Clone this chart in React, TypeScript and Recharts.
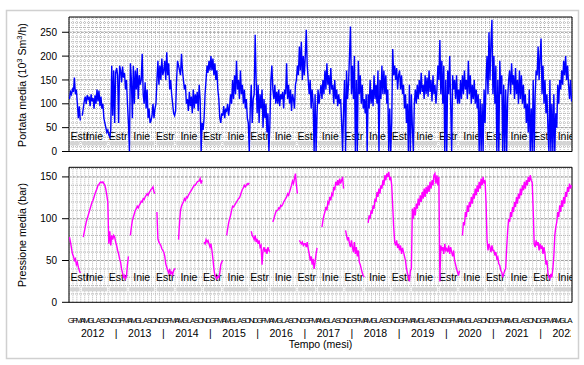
import React from 'react';
import { LineChart, Line, XAxis, YAxis, CartesianGrid, ReferenceArea, ReferenceLine } from 'recharts';

const FONT = '"Liberation Sans", Arial, Helvetica, sans-serif';

// ---- axis labels ----
const MONTH_LETTERS = ['G', 'F', 'M', 'A', 'M', 'G', 'L', 'A', 'S', 'O', 'N', 'D'];
const YEARS = [2012, 2013, 2014, 2015, 2016, 2017, 2018, 2019, 2020, 2021, 2022];
const TOTAL_MONTHS = 128;
const FLOW_TICKS = [0, 50, 100, 150, 200, 250];
const PRESS_TICKS = [0, 50, 100, 150];

// ---- seasons (month index boundaries from Jan 2012) ----
const SEASON_BOUNDS = [0, 3, 10, 15, 22, 27, 34, 39, 46, 51, 58, 63, 70, 75, 82, 87, 94, 99, 106, 111, 118, 123, 130];
const SEASON_NAMES = ['Estr', 'Inie'];

// ---- Portata media (10^3 Sm3/h), 4 readings per month ----
const flow2012 = [110,125,120,130, 125,155,120,130, 100,70,95,65, null,75,90,105, 115,100,118,110, 115,95,120,105, 112,90,118,100, 130,105,128,95, 115,90,100,70, 60,50,40,45, 35,30,45,180, 75,170,60,165];
const flow2013 = [175,160,60,180, 170,145,178,155, 165,130,150,100, 60,0,185,150, 70,180,100,170, 130,175,110,160, 140,150,205,120, 100,145,90,130, 70,90,60,65, 75,100,70,90, 100,150,190,140, 180,150,195,160];
const flow2014 = [170,190,150,208, 160,185,130,150, 120,100,80,75, 85,150,190,180, 170,160,205,170, 150,130,140,100, 110,85,125,95, 115,80,130,90, 120,100,125,85, 140,110,0,60, 45,70,120,150, 180,165,190,170];
const flow2015 = [200,170,195,160, 185,150,170,130, 110,70,60,80, 75,95,70,90, 85,100,75,95, 120,100,150,110, 160,120,190,130, 150,110,170,120, 140,100,130,90, 110,70,60,0, 90,140,60,110, 120,245,150,80];
const flow2016 = [140,60,120,90, 130,50,110,70, 100,40,80,0, 60,150,180,130, 110,140,100,125, 100,130,95,120, 110,125,90,130, 120,185,110,140, 100,130,85,120, 110,90,140,150, 180,160,220,170, 230,150,200,160];
const flow2017 = [200,255,180,150, 120,150,90,130, 100,0,120,0, 80,130,100,120, 140,110,150,120, 170,130,185,140, 160,120,175,130, 140,100,150,110, 130,95,120,100, 110,60,0,90, 150,0,170,110, 140,200,262,120];
const flow2018 = [180,110,200,0, 150,0,190,120, 160,100,140,90, 110,80,120,0, 120,90,150,100, 130,95,160,110, 140,100,170,0, 150,110,180,120, 170,120,160,100, 130,0,90,0, 60,215,160,180, 150,175,130,160];
const flow2019 = [170,130,160,120, 140,90,120,60, 100,0,140,0, 120,50,0,100, 130,100,140,110, 150,120,165,125, 140,110,160,120, 155,115,170,125, 150,105,160,120, 140,100,130,180, 150,234,120,190, 100,180,0,150];
const flow2020 = [0,170,120,200, 100,0,160,130, 150,110,160,100, 130,100,150,110, 160,120,170,130, 150,110,190,120, 160,100,140,110, 150,100,130,90, 120,0,110,0, 100,0,130,60, 150,200,120,250, 150,230,276,120];
const flow2021 = [200,100,180,0, 150,0,190,120, 160,0,140,0, 130,0,110,150, 170,120,185,140, 160,110,175,120, 150,100,170,110, 160,100,140,90, 120,60,100,40, 130,0,90,0, 150,0,120,170, 160,220,150,200];
const flow2022 = [237,120,180,100, 150,80,120,50, 0,150,0,100, 0,120,0,80, 50,140,100,150, 130,170,140,190, 160,200,150,180, 140,110,150,105];

// ---- Pressione media (bar), 4 readings per month ----
const press2012 = [78,72,65,58, 55,50,52,45, 48,42,38,35, null,null,78,84, 90,96,100,104, 108,112,116,120, 122,126,130,133, 136,140,141,143, 144,143,144,142, 140,135,128,120, 70,85,68,80, 75,80,78,72];
const press2013 = [68,62,58,52, 48,40,35,30, 32,28,31,45, 55,null,80,90, 98,102,106,110, 112,115,113,116, 118,121,120,124, 123,126,128,130, 128,131,133,135, 136,138,132,130, null,108,76,72, 70,68,64,62];
const press2014 = [60,55,46,42, 38,35,40,34, 36,33,38,40, 40,null,null,75, 95,110,115,118, 120,124,122,126, 125,128,130,132, 134,136,138,140, 140,142,144,145, 145,148,142,146, null,72,70,75, 72,74,70,66];
const press2015 = [70,62,52,40, 32,30,28,31, 30,35,45,48, 50,null,null,null, 80,88,95,100, 104,110,115,114, 116,118,120,122, 124,125,128,132, 135,137,140,138, 140,142,141,143, null,85,80,78, 75,80,72,76];
const press2016 = [70,74,66,68, 45,62,66,60, 64,58,66,62, 60,null,null,96, 100,104,108,110, 110,113,112,116, 115,117,120,122, 124,126,130,128, 132,136,140,145, 142,148,154,140, 130,null,74,72, 70,72,68,70];
const press2017 = [70,66,72,64, 58,50,55,45, 52,40,48,58, 65,null,null,null, null,90,98,104, 108,114,110,120, 118,126,122,130, 128,138,134,144, 140,146,140,148, 142,146,150,136, null,86,80,74, 78,70,66,74];
const press2018 = [66,60,72,58, 66,55,62,48, 45,40,35,32, 30,null,null,null, 95,104,100,110, 106,116,112,124, 120,132,126,136, 130,140,136,146, 140,152,146,154, 150,156,146,150, 140,115,90,72, 68,74,65,70];
const press2019 = [62,68,58,65, 60,55,50,40, 35,30,25,38, 40,112,100,114, 104,118,112,124, 116,128,120,132, 124,136,126,138, 130,140,132,144, 136,146,140,152, 154,142,152,140, 150,25,68,62, 66,58,70,62];
const press2020 = [64,60,68,58, 66,60,55,62, 50,45,40,36, 32,38,null,null, 80,96,92,108, 102,116,108,120, 114,126,118,130, 124,136,128,140, 132,144,136,148, 140,150,142,146, 120,75,62,70, 66,60,68,62];
const press2021 = [62,56,60,52, 54,46,44,38, 36,30,34,38, 40,65,85,100, 96,108,102,114, 108,120,114,126, 118,130,124,136, 128,140,134,144, 136,146,140,150, 144,152,146,143, 110,70,66,74, 68,72,62,70];
const press2022 = [64,68,58,66, 58,45,50,35, 30,28,34,30, 40,55,80,90, 96,108,102,116, 108,122,114,126, 118,132,126,138, 132,142,136,140];

const FLOW_BY_YEAR = [flow2012, flow2013, flow2014, flow2015, flow2016, flow2017, flow2018, flow2019, flow2020, flow2021, flow2022];
const PRESS_BY_YEAR = [press2012, press2013, press2014, press2015, press2016, press2017, press2018, press2019, press2020, press2021, press2022];

type Row = { t: number; flow: number | null; press: number | null };
const DATA: Row[] = [];
FLOW_BY_YEAR.forEach((arr, k) => {
  arr.forEach((v, i) => {
    DATA.push({ t: k * 12 + i / 4 + 0.125, flow: v, press: PRESS_BY_YEAR[k][i] ?? null });
  });
});

const SEASONS = SEASON_BOUNDS.slice(0, -1).map((s, i) => ({
  start: s,
  end: SEASON_BOUNDS[i + 1],
  name: SEASON_NAMES[i % 2],
}));

// ---- layout ----
const W = 584;
const PLOT_LEFT = 69;
const PLOT_RIGHT = 572;
const MONTH_BOUNDS = Array.from({ length: TOTAL_MONTHS + 1 }, (_, i) => i);
const MONTH_CENTERS = Array.from({ length: TOTAL_MONTHS }, (_, i) => i + 0.5);
const YEAR_TICKS = [
  ...YEARS.map((_, k) => k * 12 + 6),
  ...YEARS.slice(1).map((_, k) => (k + 1) * 12),
].sort((a, b) => a - b);
const FLOW_MINOR = Array.from({ length: 28 }, (_, i) => (i + 1) * 10);
const PRESS_MINOR = Array.from({ length: 16 }, (_, i) => (i + 1) * 10);

function scaleOf(axis: any): ((v: number) => number) | null {
  if (!axis) return null;
  const s = axis.scale;
  if (typeof s === 'function') return s;
  if (s && typeof s.map === 'function') return (v: number) => s.map(v);
  return null;
}

const makeVGen = (values: number[]) => (props: any) => {
  const sc = scaleOf(props && props.xAxis);
  if (!sc) return [];
  return values.map((v) => sc(v)).filter((p) => Number.isFinite(p));
};
const makeHGen = (values: number[]) => (props: any) => {
  const sc = scaleOf(props && props.yAxis);
  if (!sc) return [];
  return values.map((v) => sc(v)).filter((p) => Number.isFinite(p));
};

function SeasonLabel(props: any) {
  const { viewBox, seasonName, isFirst } = props;
  if (!viewBox) return null;
  const { x, y, width, height } = viewBox;
  const cy = y + height / 2;
  const tx = isFirst ? x + 1.5 : x + width / 2;
  return (
    <svg x={PLOT_LEFT} y={cy - 8} width={PLOT_RIGHT - PLOT_LEFT} height={16} overflow="hidden">
      <text
        x={tx - PLOT_LEFT}
        y={8}
        dominantBaseline="central"
        textAnchor={isFirst ? 'start' : 'middle'}
        fontSize={10.5}
        fill="#000"
        fontFamily={FONT}
      >
        {seasonName}
      </text>
    </svg>
  );
}

function YearTick(props: any) {
  const { x, y, payload } = props;
  const v = payload.value as number;
  const label = v % 12 === 0 ? '|' : String(YEARS[Math.floor(v / 12)]);
  return (
    <svg x={0} y={y} width={PLOT_RIGHT - 1} height={16} overflow="hidden">
      <text x={x} y={0} dy="0.75em" textAnchor="middle" fontSize={10.5} fill="#000" fontFamily={FONT}>
        {label}
      </text>
    </svg>
  );
}

function seasonLayers(textLo: number, textHi: number, barLo: number, barHi: number) {
  const out: React.ReactNode[] = [];
  SEASONS.forEach((s, i) => {
    out.push(
      <ReferenceArea
        key={`bar-${i}`}
        x1={s.start + 0.3}
        x2={Math.min(s.end - 0.3, TOTAL_MONTHS)}
        y1={barLo}
        y2={barHi}
        fill="#d4d4d4"
        fillOpacity={1}
        stroke="none"
        ifOverflow="visible"
      />
    );
    out.push(
      <ReferenceArea
        key={`lab-${i}`}
        x1={s.start}
        x2={s.end}
        y1={textLo}
        y2={textHi}
        fill="none"
        fillOpacity={0}
        stroke="none"
        ifOverflow="visible"
        label={<SeasonLabel seasonName={s.name} isFirst={i === 0} />}
      />
    );
  });
  return out;
}

function majorLines(values: number[]) {
  return values
    .filter((v) => v > 0)
    .map((v) => (
      <ReferenceLine key={`maj-${v}`} y={v} stroke="#a0a0a0" strokeWidth={1} strokeDasharray="2 2" ifOverflow="visible" />
    ));
}

const tickStyle = { fontSize: 10, fill: '#000', fontFamily: FONT };

export default function App() {
  return (
    <div style={{ position: 'absolute', left: 0, top: 0, width: W, height: 365, background: '#fff', fontFamily: FONT }}>
      <svg width={W} height={365} style={{ position: 'absolute', left: 0, top: 0 }}>
        <rect x={6.5} y={10.5} width={572} height={348} fill="none" stroke="#d0d0d0" strokeWidth={1.5} />
        <text transform="translate(26,85) rotate(-90)" textAnchor="middle" fontSize={10.6} fontFamily={FONT} fill="#000">
          Portata media (10<tspan dy={-4} fontSize={7.5}>3</tspan>
          <tspan dy={4}> Sm</tspan>
          <tspan dy={-4} fontSize={7.5}>3</tspan>
          <tspan dy={4}>/h)</tspan>
        </text>
        <text transform="translate(26,235) rotate(-90)" textAnchor="middle" fontSize={10.6} fontFamily={FONT} fill="#000">
          Pressione media (bar)
        </text>
        <text x={320.5} y={348} textAnchor="middle" fontSize={10.5} fontFamily={FONT} fill="#000">
          Tempo (mesi)
        </text>
      </svg>

      <div style={{ position: 'absolute', left: 0, top: 0 }}>
        <LineChart width={W} height={170} data={DATA} margin={{ top: 17, right: W - PLOT_RIGHT, bottom: 11.5, left: 19 }}>
          <CartesianGrid
            horizontalValues={FLOW_MINOR}
            verticalValues={MONTH_BOUNDS}
            horizontalCoordinatesGenerator={makeHGen(FLOW_MINOR)}
            verticalCoordinatesGenerator={makeVGen(MONTH_BOUNDS)}
            stroke="#b4b4b4"
            strokeWidth={1}
            strokeDasharray="1 1"
          />
          <XAxis
            type="number"
            dataKey="t"
            domain={[0, TOTAL_MONTHS]}
            ticks={MONTH_BOUNDS}
            interval={0}
            tick={false}
            tickSize={6}
            height={7}
            axisLine={false}
            stroke="#000"
            allowDataOverflow
          />
          <YAxis
            type="number"
            domain={[0, 282]}
            ticks={FLOW_TICKS}
            interval={0}
            width={50}
            tickSize={7}
            tickMargin={5}
            axisLine={false}
            stroke="#000"
            tick={tickStyle}
            allowDataOverflow
          />
          {majorLines(FLOW_TICKS)}
          {seasonLayers(28, 38, 12.8, 21.2)}
          <Line type="linear" dataKey="flow" stroke="#0000ff" strokeWidth={1.4} dot={false} isAnimationActive={false} connectNulls={false} />
          <ReferenceArea x1={0} x2={TOTAL_MONTHS} y1={0} y2={282} fill="none" stroke="#000" strokeWidth={1} ifOverflow="visible" />
        </LineChart>
      </div>

      <div style={{ position: 'absolute', left: 0, top: 0 }}>
        <LineChart width={W} height={365} data={DATA} margin={{ top: 167.3, right: W - PLOT_RIGHT, bottom: 30.7, left: 19 }}>
          <CartesianGrid
            horizontalValues={PRESS_MINOR}
            verticalValues={MONTH_BOUNDS}
            horizontalCoordinatesGenerator={makeHGen(PRESS_MINOR)}
            verticalCoordinatesGenerator={makeVGen(MONTH_BOUNDS)}
            stroke="#b4b4b4"
            strokeWidth={1}
            strokeDasharray="1 1"
          />
          <XAxis
            type="number"
            dataKey="t"
            domain={[0, TOTAL_MONTHS]}
            ticks={MONTH_BOUNDS}
            interval={0}
            tick={false}
            tickSize={6}
            height={7}
            axisLine={false}
            stroke="#000"
            allowDataOverflow
          />
          <XAxis
            xAxisId="m"
            type="number"
            dataKey="t"
            domain={[0, TOTAL_MONTHS]}
            ticks={MONTH_CENTERS}
            interval={0}
            tickLine={false}
            tickSize={0}
            tickMargin={8}
            height={11}
            axisLine={false}
            tickFormatter={(v: number) => MONTH_LETTERS[Math.floor(v) % 12]}
            tick={{ fontSize: 8, fill: '#000', fontFamily: FONT }}
            allowDataOverflow
          />
          <XAxis
            xAxisId="y"
            type="number"
            dataKey="t"
            domain={[0, TOTAL_MONTHS]}
            ticks={YEAR_TICKS}
            interval={0}
            tickLine={false}
            tickSize={0}
            tickMargin={8.5}
            height={14}
            axisLine={false}
            tick={<YearTick />}
            allowDataOverflow
          />
          <YAxis
            type="number"
            domain={[0, 161.5]}
            ticks={PRESS_TICKS}
            interval={0}
            width={50}
            tickSize={7}
            tickMargin={5}
            axisLine={false}
            stroke="#000"
            tick={tickStyle}
            allowDataOverflow
          />
          {majorLines(PRESS_TICKS)}
          {seasonLayers(24, 36, 13.1, 17.9)}
          <Line type="linear" dataKey="press" stroke="#ff00ff" strokeWidth={1.4} dot={false} isAnimationActive={false} connectNulls={false} />
          <ReferenceArea x1={0} x2={TOTAL_MONTHS} y1={0} y2={161.5} fill="none" stroke="#000" strokeWidth={1} ifOverflow="visible" />
        </LineChart>
      </div>
    </div>
  );
}
